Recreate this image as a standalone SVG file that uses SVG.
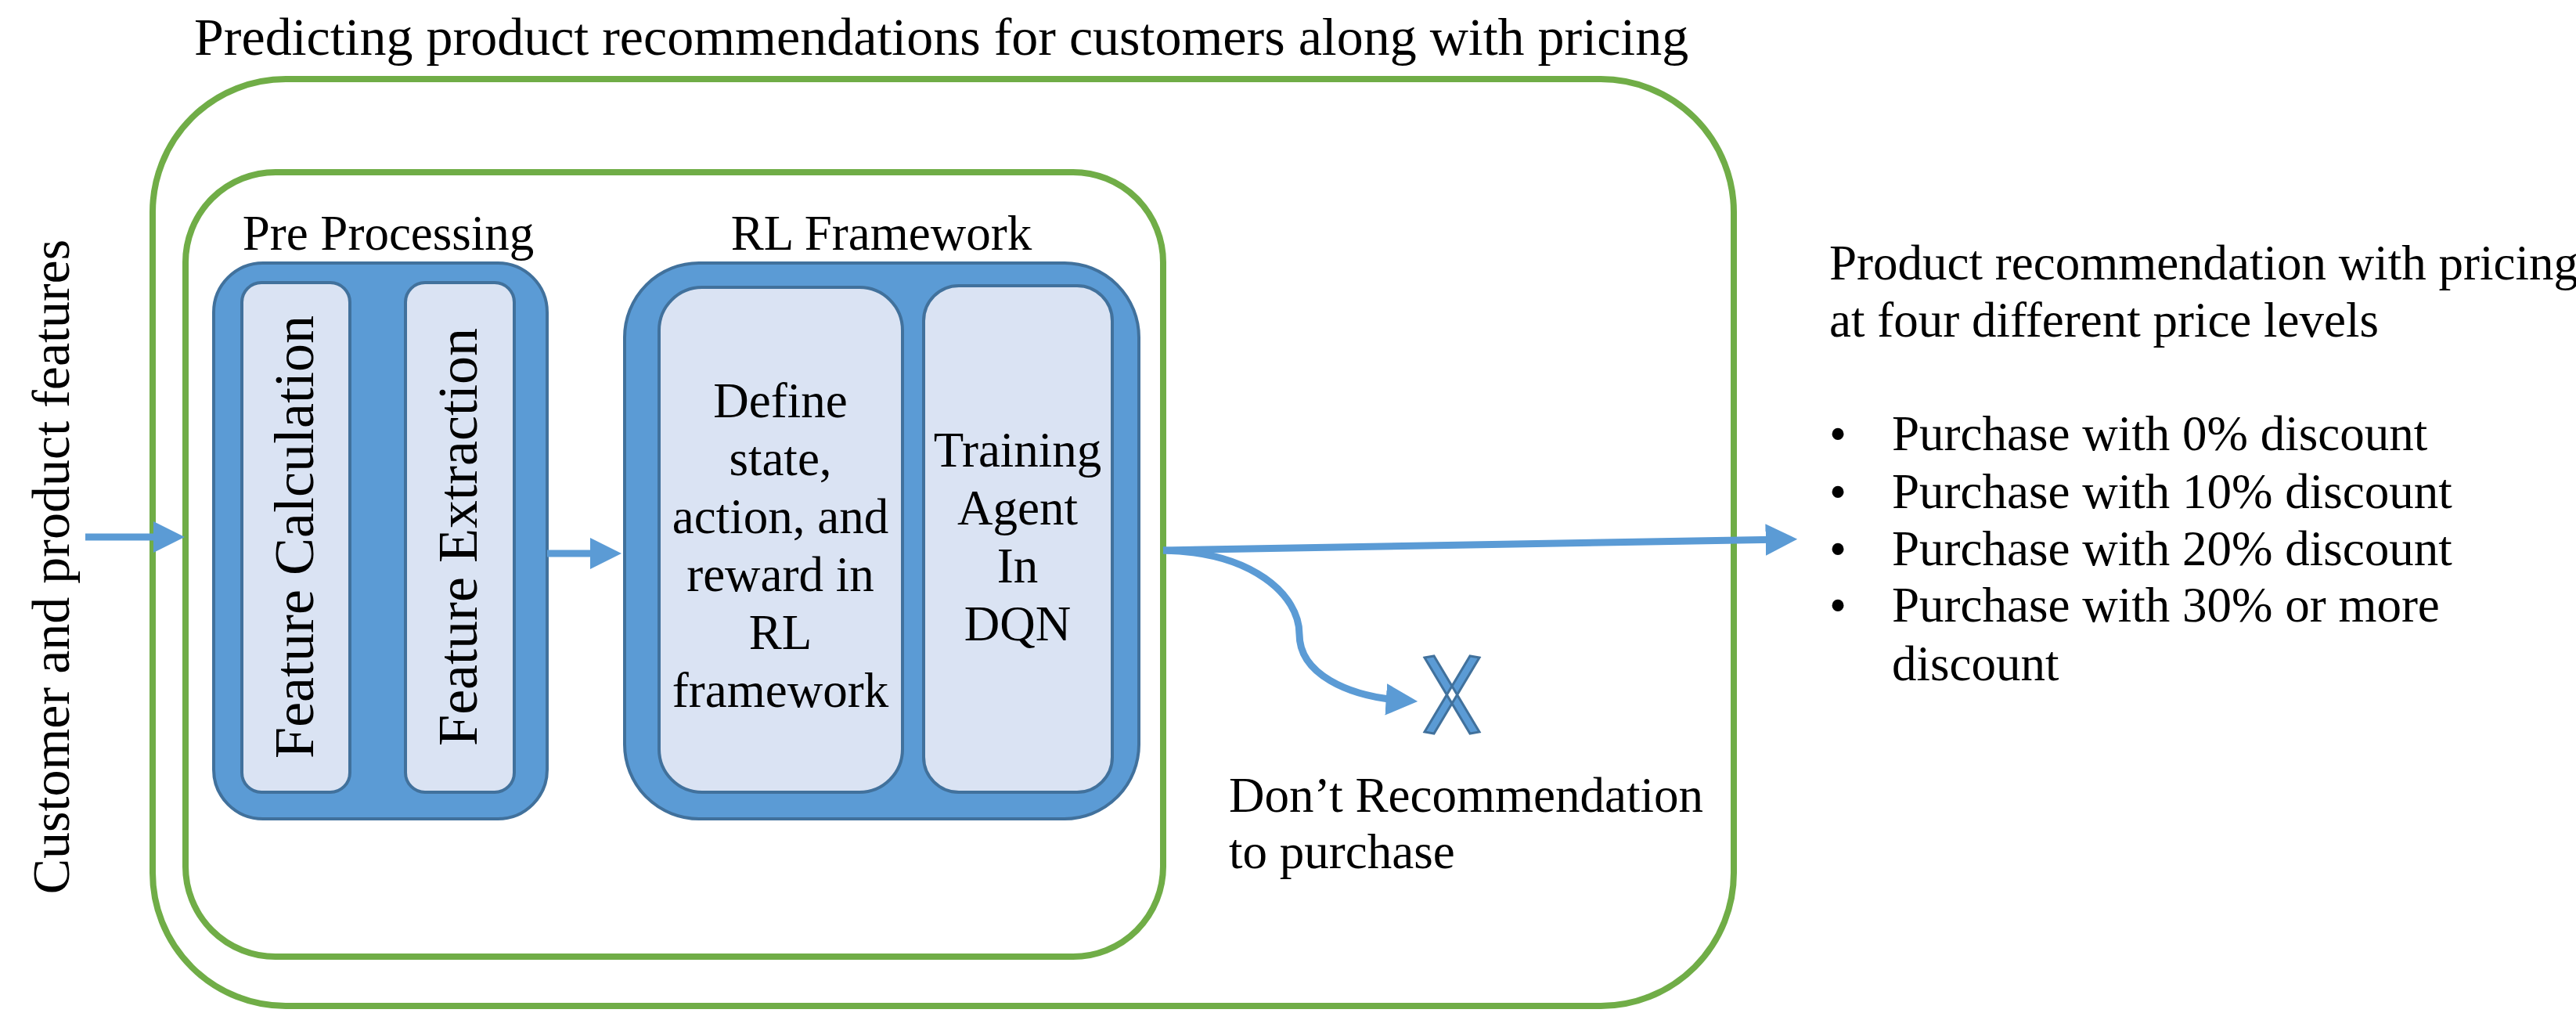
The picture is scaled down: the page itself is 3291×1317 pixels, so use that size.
<svg xmlns="http://www.w3.org/2000/svg" width="3291" height="1317" viewBox="0 0 3291 1317">
<defs>
<style>
text{font-family:"Liberation Serif","Times New Roman",serif;font-size:63px;fill:#000}
.t{font-size:68px}
.r{font-size:72px}
.g{fill:none;stroke:#70AD47;stroke-width:8}
.b{fill:#5B9BD5;stroke:#41719C;stroke-width:4}
.l{fill:#DAE3F3;stroke:#41719C;stroke-width:4}
.c{fill:none;stroke:#5B9BD5;stroke-width:9}
</style>
<marker id="ah" viewBox="0 0 10 10" refX="6" refY="5" markerWidth="4.5" markerHeight="5" orient="auto"><path d="M0,0 L10,5 L0,10 z" fill="#5B9BD5"/></marker>
</defs>
<rect width="3291" height="1317" fill="#fff"/>
<text class="t" x="248" y="70">Predicting product recommendations for customers along with pricing</text>
<g id="outer"><rect class="g" x="195" y="101" width="2020" height="1184" rx="170"/></g>
<g id="inner"><rect class="g" x="237" y="220" width="1249" height="1002" rx="115"/></g>
<g id="preprocessing">
<text x="496" y="319" text-anchor="middle">Pre Processing</text>
<rect class="b" x="273" y="336" width="426" height="710" rx="63"/>
</g>
<g id="featcalc"><rect class="l" x="309" y="361" width="138" height="651" rx="25"/>
<text class="r" transform="translate(400,686) rotate(-90)" text-anchor="middle">Feature Calculation</text></g>
<g id="featext"><rect class="l" x="518" y="361" width="139" height="651" rx="25"/>
<text class="r" transform="translate(609,686) rotate(-90)" text-anchor="middle">Feature Extraction</text></g>
<g id="rl">
<text x="1126" y="319" text-anchor="middle">RL Framework</text>
<rect class="b" x="798" y="336" width="657" height="710" rx="95"/>
</g>
<g id="define"><rect class="l" x="842" y="367" width="311" height="645" rx="55"/>
<text text-anchor="middle"><tspan x="997" y="533">Define</tspan><tspan x="997" y="607">state,</tspan><tspan x="997" y="681">action, and</tspan><tspan x="997" y="755">reward in</tspan><tspan x="997" y="829">RL</tspan><tspan x="997" y="903">framework</tspan></text></g>
<g id="training"><rect class="l" x="1180" y="365" width="241" height="647" rx="45"/>
<text text-anchor="middle"><tspan x="1300" y="596">Training</tspan><tspan x="1300" y="670">Agent</tspan><tspan x="1300" y="744">In</tspan><tspan x="1300" y="818">DQN</tspan></text></g>
<g id="reject">
<path d="M1820,840 L1832,838 L1890,935 L1878,937 Z M1890,840 L1878,838 L1820,935 L1832,937 Z" fill="#5B9BD5" stroke="#41719C" stroke-width="3"/>
<text><tspan x="1570" y="1037">Don’t Recommendation</tspan><tspan x="1570" y="1109">to purchase</tspan></text>
</g>
<g id="output">
<text><tspan x="2337" y="357">Product recommendation with pricing</tspan><tspan x="2337" y="430">at four different price levels</tspan></text>
<text><tspan x="2337" y="575">•</tspan><tspan x="2417" y="575">Purchase with 0% discount</tspan>
<tspan x="2337" y="649">•</tspan><tspan x="2417" y="649">Purchase with 10% discount</tspan>
<tspan x="2337" y="722">•</tspan><tspan x="2417" y="722">Purchase with 20% discount</tspan>
<tspan x="2337" y="794">•</tspan><tspan x="2417" y="794">Purchase with 30% or more</tspan>
<tspan x="2417" y="869">discount</tspan></text>
</g>
<g id="inputlabel"><text class="t" transform="translate(88,724) rotate(-90)" text-anchor="middle">Customer and product features</text></g>
<g id="connectors">
<path class="c" d="M109,686 L220,686" marker-end="url(#ah)"/>
<path class="c" d="M699,707 L778,707" marker-end="url(#ah)"/>
<path class="c" d="M1486,703 L2280,689" marker-end="url(#ah)"/>
<path class="c" d="M1486,703 C1600,705 1660,760 1660,810 C1660,860 1720,890 1795,895" marker-end="url(#ah)"/>
</g>
</svg>
